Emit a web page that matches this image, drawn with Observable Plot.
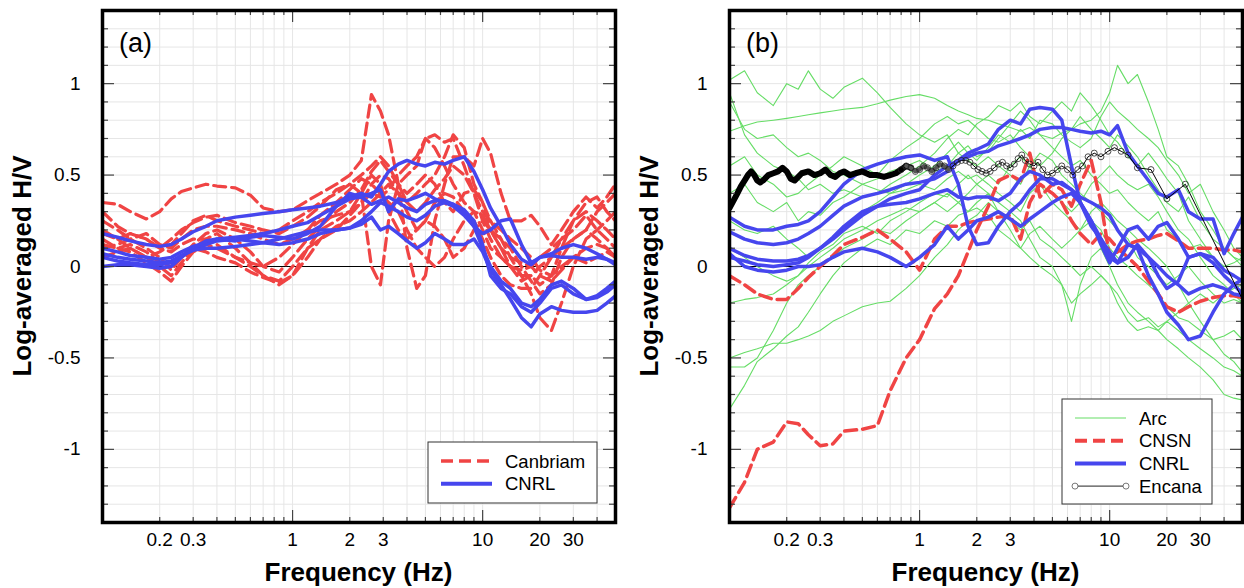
<!DOCTYPE html>
<html><head><meta charset="utf-8">
<script src="https://cdn.jsdelivr.net/npm/d3@7"></script>
<script src="https://cdn.jsdelivr.net/npm/@observablehq/plot@0.6"></script>
<style>
body{margin:0;background:#fff;}
#wrap{position:relative;width:1244px;height:588px;display:flex;overflow:hidden;}
#wrap svg{display:block;flex:none;}
</style></head><body><div id="wrap"></div>
<script>
// ---------- tick labels ----------
const xTickLabels = [0.2, 0.3, 1, 2, 3, 10, 20, 30];
const yTickLabels = [-1, -0.5, 0, 0.5, 1];
const xMinor = [0.2,0.3,0.4,0.5,0.6,0.7,0.8,0.9,2,3,4,5,6,7,8,9,20,30,40];
const xMajor = [1, 10];
const yMinor = [-1.3,-1.2,-1.1,-0.9,-0.8,-0.7,-0.6,-0.4,-0.3,-0.2,-0.1,0.1,0.2,0.3,0.4,0.6,0.7,0.8,0.9,1.1,1.2,1.3];
const yMajor = [-1, -0.5, 0, 0.5, 1];

// ---------- panel (a) data ----------
const freqA = [0.1,0.12,0.14,0.17,0.2,0.23,0.26,0.3,0.35,0.4,0.5,0.6,0.7,0.85,1,1.2,1.4,1.7,2,2.3,2.6,2.9,3.2,3.6,4,4.5,5,5.6,6.3,7,8,9,10,11,12.5,14,16,18,20,23,26,30,35,40,45,50];
const canbriam1 = [0.35,0.34,0.30,0.26,0.30,0.37,0.41,0.43,0.45,0.44,0.43,0.39,0.32,0.30,0.31,0.36,0.40,0.45,0.50,0.58,0.94,0.85,0.72,0.45,0.10,-0.12,-0.05,0.25,0.45,0.60,0.60,0.55,0.70,0.62,0.40,0.25,0.25,0.28,0.22,0.12,0.20,0.30,0.38,0.32,0.38,0.45];
const canbriam2 = [0.30,0.22,0.18,0.15,0.10,0.15,0.20,0.24,0.27,0.28,0.24,0.22,0.20,0.18,0.22,0.27,0.33,0.42,0.45,0.40,0.00,-0.10,0.25,0.45,0.50,0.55,0.70,0.72,0.68,0.70,0.55,0.40,0.25,0.15,0.05,0.00,-0.05,-0.05,-0.10,-0.05,0.10,0.25,0.35,0.38,0.30,0.25];
const canbriam3 = [0.20,0.15,0.10,0.05,0.00,-0.05,0.02,0.10,0.15,0.18,0.10,0.02,-0.05,-0.08,0.00,0.10,0.15,0.20,0.28,0.35,0.45,0.50,0.48,0.40,0.30,0.20,0.25,0.35,0.40,0.38,0.30,0.25,0.15,0.05,-0.05,-0.10,-0.12,-0.12,-0.05,0.05,0.15,0.20,0.28,0.20,0.15,0.10];
const canbriam4 = [0.25,0.20,0.15,0.10,0.05,-0.02,0.05,0.12,0.18,0.20,0.15,0.08,0.00,-0.03,0.05,0.15,0.22,0.30,0.35,0.42,0.52,0.58,0.52,0.45,0.40,0.45,0.50,0.45,0.35,0.30,0.40,0.42,0.35,0.25,0.15,0.05,-0.05,-0.15,-0.28,-0.35,-0.20,0.00,0.15,0.20,0.25,0.30];
const canbriam5 = [0.10,0.12,0.15,0.18,0.12,0.10,0.15,0.20,0.22,0.22,0.20,0.18,0.15,0.12,0.15,0.20,0.25,0.28,0.30,0.35,0.40,0.38,0.42,0.50,0.55,0.60,0.70,0.65,0.55,0.45,0.35,0.30,0.20,0.10,0.05,0.00,-0.02,0.00,0.05,0.10,0.15,0.25,0.30,0.25,0.20,0.15];
const canbriam6 = [0.15,0.10,0.08,0.02,-0.03,-0.08,0.00,0.08,0.12,0.10,0.05,0.00,-0.05,-0.10,-0.05,0.10,0.20,0.25,0.30,0.40,0.50,0.45,0.30,0.20,0.15,0.20,0.25,0.22,0.15,0.05,0.10,0.20,0.25,0.20,0.10,0.00,-0.08,-0.05,0.00,0.05,0.10,0.15,0.20,0.15,0.10,0.05];
const canbriam7 = [0.05,0.08,0.10,0.05,0.08,0.12,0.18,0.25,0.28,0.25,0.22,0.20,0.18,0.20,0.25,0.30,0.35,0.40,0.45,0.50,0.55,0.60,0.55,0.45,0.35,0.30,0.35,0.42,0.48,0.55,0.50,0.40,0.30,0.25,0.20,0.15,0.10,0.05,-0.02,-0.05,0.00,0.05,0.02,0.05,0.08,0.05];
const canbriam8 = [0.12,0.10,0.12,0.08,0.02,0.00,0.05,0.10,0.08,0.05,0.02,-0.03,-0.06,-0.09,-0.05,0.05,0.15,0.22,0.25,0.30,0.35,0.40,0.45,0.40,0.35,0.40,0.45,0.50,0.60,0.72,0.65,0.45,0.35,0.20,0.10,0.05,0.02,0.00,-0.05,-0.08,-0.02,0.05,0.10,0.12,0.10,0.05];
const canbriam9 = [0.18,0.15,0.18,0.15,0.10,0.08,0.12,0.15,0.15,0.12,0.05,0.02,0.00,0.05,0.12,0.20,0.28,0.35,0.42,0.48,0.45,0.40,0.35,0.30,0.20,0.10,0.05,0.00,0.05,0.15,0.25,0.30,0.28,0.20,0.15,0.10,0.00,-0.08,-0.15,-0.10,0.05,0.15,0.20,0.30,0.35,0.40];
const cnrlA1 = [0.18,0.16,0.14,0.12,0.11,0.12,0.15,0.19,0.22,0.25,0.27,0.28,0.29,0.30,0.31,0.32,0.33,0.35,0.38,0.40,0.38,0.45,0.52,0.56,0.58,0.56,0.55,0.57,0.56,0.58,0.60,0.52,0.42,0.32,0.22,0.12,0.04,0.01,0.05,0.06,0.05,0.05,0.04,0.05,0.04,0.02];
const cnrlA2 = [0.10,0.08,0.06,0.05,0.04,0.05,0.08,0.11,0.13,0.15,0.16,0.17,0.18,0.20,0.22,0.24,0.28,0.33,0.37,0.38,0.40,0.42,0.30,0.37,0.36,0.38,0.40,0.37,0.35,0.33,0.28,0.22,0.18,0.20,0.25,0.26,0.12,0.02,0.05,0.07,0.10,0.12,0.10,0.07,0.04,0.01];
const cnrlA3 = [0.07,0.05,0.04,0.03,0.02,0.03,0.06,0.09,0.12,0.14,0.15,0.14,0.13,0.12,0.13,0.15,0.18,0.20,0.21,0.23,0.27,0.20,0.22,0.18,0.14,0.10,0.13,0.18,0.15,0.12,0.12,0.15,0.08,-0.02,-0.10,-0.18,-0.28,-0.33,-0.26,-0.22,-0.24,-0.25,-0.25,-0.24,-0.20,-0.16];
const cnrlA4 = [0.00,0.01,0.01,0.00,-0.01,0.00,0.05,0.10,0.14,0.15,0.14,0.16,0.17,0.16,0.15,0.18,0.22,0.33,0.40,0.38,0.34,0.36,0.38,0.35,0.32,0.30,0.34,0.36,0.36,0.34,0.30,0.22,0.10,0.00,-0.08,-0.12,-0.20,-0.22,-0.18,-0.10,-0.08,-0.12,-0.18,-0.17,-0.14,-0.10];
const cnrlA5 = [0.05,0.03,0.02,0.01,0.01,0.02,0.06,0.09,0.10,0.10,0.11,0.12,0.13,0.15,0.17,0.19,0.20,0.20,0.21,0.25,0.30,0.35,0.33,0.30,0.27,0.25,0.28,0.33,0.35,0.34,0.31,0.25,0.12,-0.05,-0.12,-0.15,-0.22,-0.25,-0.20,-0.12,-0.10,-0.15,-0.18,-0.16,-0.12,-0.08];

// ---------- panel (b) data ----------
const freqB = [0.1,0.12,0.14,0.17,0.2,0.23,0.26,0.3,0.35,0.4,0.5,0.6,0.7,0.85,1,1.2,1.4,1.6,1.8,2,2.3,2.6,3,3.4,3.8,4.3,5,5.6,6.3,7,8,9,10,11,12.5,14,16,18,20,23,26,30,35,40,45,50];
const arc1 = [1.02,1.07,0.95,0.88,1.00,0.97,1.07,0.97,0.92,0.98,1.03,0.95,0.87,0.78,0.72,0.68,0.72,0.62,0.66,0.60,0.63,0.70,0.78,0.85,0.80,0.72,0.65,0.60,0.55,0.58,0.50,0.45,0.40,0.42,0.35,0.30,0.25,0.30,0.20,0.15,0.10,0.12,0.05,0.00,0.02,0.05];
const arc2 = [0.74,0.77,0.79,0.80,0.81,0.82,0.83,0.84,0.85,0.86,0.87,0.89,0.91,0.93,0.94,0.92,0.88,0.85,0.83,0.81,0.80,0.78,0.76,0.74,0.76,0.72,0.70,0.73,0.75,0.78,0.80,0.85,0.95,1.10,1.00,1.05,0.90,0.75,0.60,0.55,0.45,0.30,0.20,0.10,0.05,0.00];
const arc3 = [0.95,0.72,0.62,0.55,0.52,0.48,0.42,0.45,0.40,0.42,0.38,0.40,0.45,0.50,0.55,0.62,0.70,0.75,0.72,0.78,0.82,0.88,0.85,0.90,0.82,0.78,0.85,0.90,0.85,0.95,0.88,0.80,0.72,0.68,0.60,0.55,0.62,0.55,0.48,0.40,0.25,0.15,0.05,-0.05,-0.10,-0.15];
const arc4 = [0.55,0.60,0.50,0.45,0.38,0.40,0.45,0.50,0.55,0.60,0.55,0.50,0.58,0.65,0.70,0.78,0.82,0.78,0.80,0.76,0.70,0.68,0.72,0.65,0.60,0.55,0.62,0.70,0.75,0.82,0.75,0.70,0.65,0.72,0.66,0.60,0.50,0.42,0.35,0.30,0.38,0.25,0.15,0.10,0.05,0.03];
const arc5 = [0.40,0.45,0.35,0.30,0.35,0.25,0.30,0.28,0.35,0.38,0.45,0.48,0.52,0.55,0.58,0.52,0.55,0.62,0.58,0.55,0.60,0.55,0.50,0.45,0.55,0.62,0.58,0.50,0.45,0.40,0.35,0.30,0.25,0.20,0.15,0.05,0.00,-0.05,-0.10,-0.05,0.00,-0.08,-0.15,-0.20,-0.18,-0.20];
const arc6 = [-0.20,-0.18,-0.17,-0.15,-0.10,-0.05,0.02,0.08,0.12,0.18,0.22,0.18,0.25,0.30,0.35,0.40,0.38,0.45,0.50,0.45,0.40,0.35,0.30,0.25,0.15,0.05,0.00,-0.10,-0.30,-0.10,0.05,0.10,0.00,-0.10,-0.20,-0.25,-0.30,-0.35,-0.40,-0.45,-0.50,-0.55,-0.62,-0.70,-0.72,-0.73];
const arc7 = [-0.50,-0.47,-0.45,-0.42,-0.42,-0.40,-0.38,-0.35,-0.30,-0.27,-0.22,-0.20,-0.19,-0.12,-0.05,0.05,0.12,0.20,0.25,0.28,0.35,0.30,0.25,0.20,0.25,0.15,0.10,0.05,0.00,-0.05,0.00,-0.05,-0.10,-0.15,-0.25,-0.30,-0.28,-0.33,-0.30,-0.25,-0.20,-0.15,-0.20,-0.15,-0.12,-0.10];
const arc8 = [-0.55,-0.55,-0.50,-0.35,-0.20,-0.10,-0.05,0.00,0.05,0.10,0.15,0.20,0.18,0.25,0.30,0.35,0.30,0.35,0.40,0.45,0.50,0.45,0.55,0.60,0.55,0.45,0.35,0.30,0.25,0.20,0.30,0.35,0.30,0.25,0.20,0.15,0.10,0.05,0.00,-0.10,-0.20,-0.30,-0.40,-0.48,-0.52,-0.58];
const arc9 = [-0.78,-0.65,-0.52,-0.45,-0.38,-0.33,-0.25,-0.15,-0.05,0.02,0.10,0.15,0.12,0.20,0.18,0.25,0.22,0.28,0.30,0.32,0.28,0.20,0.15,0.10,0.18,0.22,0.15,0.10,0.15,0.20,0.25,0.20,0.10,0.05,0.00,-0.05,-0.10,-0.15,-0.22,-0.28,-0.30,-0.35,-0.40,-0.38,-0.35,-0.40];
const arc10 = [0.25,0.20,0.18,0.22,0.15,0.10,0.05,0.10,0.15,0.20,0.30,0.35,0.40,0.45,0.50,0.55,0.62,0.68,0.62,0.58,0.65,0.72,0.68,0.75,0.70,0.80,0.78,0.72,0.68,0.65,0.70,0.82,0.90,0.85,0.80,0.75,0.70,0.65,0.58,0.50,0.40,0.45,0.30,0.20,0.10,0.05];
const arc11 = [0.90,0.75,0.70,0.72,0.65,0.60,0.62,0.58,0.52,0.50,0.45,0.42,0.40,0.42,0.45,0.42,0.48,0.52,0.48,0.50,0.45,0.40,0.35,0.30,0.40,0.45,0.40,0.35,0.30,0.35,0.45,0.50,0.55,0.50,0.45,0.42,0.45,0.38,0.30,0.20,0.15,0.05,-0.05,-0.10,-0.15,-0.20];
const arc12 = [0.10,0.05,0.00,-0.05,-0.08,-0.05,0.00,0.05,0.10,0.15,0.20,0.25,0.28,0.32,0.30,0.35,0.40,0.35,0.30,0.35,0.40,0.30,0.20,0.10,0.05,0.00,-0.05,-0.10,-0.20,-0.15,-0.10,-0.05,-0.10,-0.20,-0.30,-0.35,-0.33,-0.35,-0.30,-0.35,-0.40,-0.45,-0.50,-0.55,-0.57,-0.60];
const cnsn1 = [-1.32,-1.18,-1.00,-0.96,-0.85,-0.86,-0.92,-0.98,-0.97,-0.90,-0.89,-0.87,-0.68,-0.50,-0.40,-0.23,-0.15,-0.05,0.08,0.20,0.33,0.47,0.50,0.47,0.62,0.38,0.45,0.42,0.33,0.45,0.58,0.35,0.05,0.08,0.12,0.14,0.15,0.17,0.18,0.14,0.10,0.10,0.10,0.09,0.09,0.08];
const cnsn2 = [-0.05,-0.10,-0.15,-0.18,-0.18,-0.12,-0.06,0.00,0.06,0.12,0.16,0.20,0.15,0.08,-0.02,0.15,0.22,0.22,0.24,0.25,0.26,0.27,0.28,0.15,0.35,0.45,0.40,0.35,0.25,0.18,0.12,0.18,0.15,0.10,0.05,0.00,-0.08,-0.15,-0.22,-0.25,-0.22,-0.19,-0.17,-0.16,-0.16,-0.17];
const cnrlB1 = [0.27,0.22,0.20,0.20,0.22,0.23,0.25,0.30,0.38,0.45,0.53,0.56,0.58,0.60,0.61,0.58,0.60,0.45,0.22,0.12,0.13,0.22,0.30,0.35,0.42,0.48,0.48,0.45,0.42,0.35,0.25,0.15,0.05,0.02,0.12,0.10,-0.05,-0.15,-0.25,-0.32,-0.40,-0.38,-0.25,-0.15,-0.10,-0.07];
const cnrlB2 = [0.19,0.15,0.13,0.12,0.13,0.15,0.18,0.22,0.28,0.33,0.38,0.40,0.42,0.45,0.46,0.48,0.52,0.58,0.62,0.64,0.67,0.75,0.80,0.78,0.86,0.87,0.86,0.80,0.55,0.35,0.22,0.15,0.08,0.02,0.05,0.12,0.05,-0.05,-0.12,-0.08,0.05,0.07,0.02,-0.05,-0.10,-0.15];
const cnrlB3 = [0.05,0.03,0.01,0.00,0.01,0.02,0.05,0.10,0.15,0.20,0.28,0.33,0.37,0.40,0.42,0.50,0.55,0.58,0.60,0.62,0.63,0.66,0.68,0.70,0.72,0.75,0.76,0.76,0.75,0.74,0.73,0.74,0.72,0.77,0.62,0.55,0.47,0.40,0.38,0.42,0.30,0.26,0.26,0.07,0.18,0.27];
const cnrlB4 = [0.10,0.06,0.04,0.03,0.03,0.04,0.06,0.10,0.16,0.22,0.30,0.33,0.34,0.35,0.37,0.40,0.42,0.38,0.37,0.38,0.38,0.36,0.40,0.48,0.52,0.50,0.45,0.46,0.42,0.38,0.35,0.32,0.28,0.20,0.12,0.10,0.05,0.00,-0.05,-0.10,-0.15,-0.12,-0.10,-0.12,-0.15,-0.16];
const cnrlB5 = [0.07,0.00,-0.02,-0.03,-0.02,0.00,0.00,0.01,0.05,0.08,0.10,0.08,0.05,0.00,0.05,0.12,0.22,0.15,0.20,0.25,0.27,0.30,0.26,0.22,0.26,0.30,0.35,0.38,0.40,0.35,0.25,0.12,0.02,0.10,0.20,0.22,0.15,0.22,0.24,0.15,0.05,0.07,0.05,-0.02,-0.05,-0.08];
const encanaFreq = [0.1,0.105,0.11,0.115,0.12,0.125,0.13,0.135,0.14,0.145,0.15,0.16,0.17,0.18,0.19,0.2,0.21,0.22,0.23,0.24,0.26,0.28,0.3,0.32,0.34,0.36,0.38,0.4,0.43,0.46,0.5,0.55,0.6,0.65,0.7,
  0.75,0.8,0.85,0.9,0.95,1.0,1.05,1.1,1.16,1.22,1.28,1.35,1.42,1.5,1.58,1.66,1.75,1.84,1.93,2.03,2.13,2.24,2.35,2.47,2.6,2.73,2.87,3.0,3.15,3.3,3.45,3.6,3.8,4.0,4.2,4.45,4.7,5.0,5.3,5.6,6.0,6.4,6.8,7.2,7.7,8.3,9.0,9.8,10.6,11.5,12.5,14,16.5,20,25,50];
const encanaVal = [0.32,0.36,0.40,0.44,0.47,0.50,0.52,0.50,0.47,0.46,0.47,0.50,0.51,0.52,0.54,0.52,0.48,0.47,0.49,0.51,0.52,0.50,0.51,0.53,0.50,0.49,0.51,0.52,0.50,0.51,0.52,0.50,0.50,0.49,0.50,
  0.51,0.53,0.55,0.54,0.52,0.53,0.55,0.54,0.52,0.54,0.56,0.55,0.53,0.55,0.57,0.58,0.58,0.57,0.55,0.53,0.52,0.51,0.52,0.54,0.56,0.57,0.55,0.54,0.56,0.59,0.61,0.58,0.56,0.55,0.57,0.53,0.50,0.51,0.53,0.55,0.53,0.50,0.53,0.55,0.60,0.62,0.60,0.63,0.65,0.63,0.61,0.54,0.53,0.37,0.45,-0.18];

// ---------- styles ----------
const RED = "#f04444", BLUE = "#4646ee", GREEN = "#66dd66", GRID = "#e6e6e6", TICK = "#444";
const FONT = "'Liberation Sans', Arial, Helvetica, sans-serif";

function table(freqs, named) {
  return Object.entries(named).flatMap(([name, vals]) => vals.map((v, i) => ({f: freqs[i], v, name})));
}
const canbriamA = table(freqA, {canbriam1, canbriam2, canbriam3, canbriam4, canbriam5, canbriam6, canbriam7, canbriam8, canbriam9});
const cnrlA = table(freqA, {cnrlA1, cnrlA2, cnrlA3, cnrlA4, cnrlA5});
const arcB = table(freqB, {arc1, arc2, arc3, arc4, arc5, arc6, arc7, arc8, arc9, arc10, arc11, arc12});
const cnsnB = table(freqB, {cnsn1, cnsn2});
const cnrlB = table(freqB, {cnrlB1, cnrlB2, cnrlB3, cnrlB4, cnrlB5});
const encana = encanaFreq.map((f, i) => ({f, v: encanaVal[i]}));

const W = 622, H = 588, MT = 10, MB = 66;
const PH = H - MT - MB;

function makePanel(ml, mr, dataMarks) {
  const PW = W - ml - mr;
  const gridX = xMinor.concat(xMajor);
  const gridY = yMinor.concat(yMajor);
  return Plot.plot({
    width: W, height: H,
    marginLeft: ml, marginRight: mr, marginTop: MT, marginBottom: MB,
    x: {type: "log", domain: [0.1, 50], axis: null},
    y: {domain: [-1.4, 1.4], axis: null},
    style: {fontFamily: FONT, fontSize: "19px", background: "white", color: "black", overflow: "visible"},
    marks: [
      Plot.ruleX(gridX, {stroke: GRID, strokeWidth: 1}),
      Plot.ruleY(gridY, {stroke: GRID, strokeWidth: 1}),
      Plot.ruleY([0], {stroke: "black", strokeWidth: 1}),
      ...dataMarks,
      Plot.ruleX(xMinor, {insetTop: PH - 5, stroke: TICK, strokeWidth: 1.2}),
      Plot.ruleX(xMinor, {insetBottom: PH - 5, stroke: TICK, strokeWidth: 1.2}),
      Plot.ruleX(xMajor, {insetTop: PH - 12, stroke: TICK, strokeWidth: 1.2}),
      Plot.ruleX(xMajor, {insetBottom: PH - 12, stroke: TICK, strokeWidth: 1.2}),
      Plot.ruleY(yMinor, {insetRight: PW - 6, stroke: TICK, strokeWidth: 1.2}),
      Plot.ruleY(yMinor, {insetLeft: PW - 6, stroke: TICK, strokeWidth: 1.2}),
      Plot.ruleY(yMajor, {insetRight: PW - 12, stroke: TICK, strokeWidth: 1.2}),
      Plot.ruleY(yMajor, {insetLeft: PW - 12, stroke: TICK, strokeWidth: 1.2}),
      Plot.frame({stroke: "black", strokeWidth: 3.5}),
      Plot.text(xTickLabels, {x: d => d, frameAnchor: "bottom", dy: 23, text: d => String(d), fontSize: 19, fill: "black", textAnchor: "middle"}),
      Plot.text(yTickLabels, {y: d => d, frameAnchor: "left", dx: -22, text: d => String(d), fontSize: 19, fill: "black", textAnchor: "end"})
    ]
  });
}

function addText(svg, ml, mr, tag) {
  const s = d3.select(svg);
  const cx = ml + (W - ml - mr) / 2;
  s.append("text").attr("x", cx).attr("y", 581).attr("text-anchor", "middle")
    .attr("font-family", FONT).attr("font-weight", "bold").attr("font-size", 26).attr("fill", "black")
    .text("Frequency (Hz)");
  s.append("text").attr("transform", `translate(${ml - 71},${MT + PH / 2}) rotate(-90)`).attr("text-anchor", "middle")
    .attr("font-family", FONT).attr("font-weight", "bold").attr("font-size", 26).attr("fill", "black")
    .text("Log-averaged H/V");
  s.append("text").attr("x", ml + 17).attr("y", 52).attr("text-anchor", "start")
    .attr("font-family", FONT).attr("font-size", 27).attr("fill", "black").text(tag);
}

function legend(svg, x, y, w, h, rows) {
  const s = d3.select(svg);
  s.append("rect").attr("x", x).attr("y", y).attr("width", w).attr("height", h)
    .attr("fill", "white").attr("stroke", "#333").attr("stroke-width", 1);
  rows.forEach((r, i) => {
    const yy = y + 19 + i * 22.7;
    const g = s.append("g");
    g.append("line").attr("x1", x + 13).attr("x2", x + 64).attr("y1", yy).attr("y2", yy)
      .attr("stroke", r.stroke).attr("stroke-width", r.width).attr("stroke-dasharray", r.dash || null);
    if (r.dots) {
      [x + 13, x + 64].forEach(cx => g.append("circle").attr("cx", cx).attr("cy", yy).attr("r", 3)
        .attr("fill", "white").attr("stroke", "#555").attr("stroke-width", 0.8));
    }
    g.append("text").attr("x", x + 77).attr("y", yy).attr("dy", "0.36em").attr("text-anchor", "start")
      .attr("font-family", FONT).attr("font-size", 18.5).attr("fill", "black").text(r.label);
  });
}

const wrap = document.getElementById("wrap");

// Panel (a)
const mlA = 102, mrA = 7;
const svgA = makePanel(mlA, mrA, [
  Plot.line(canbriamA, {x: "f", y: "v", z: "name", stroke: RED, strokeWidth: 3.2, strokeDasharray: "12,6", clip: true}),
  Plot.line(cnrlA, {x: "f", y: "v", z: "name", stroke: BLUE, strokeWidth: 3.5, clip: true})
]);
addText(svgA, mlA, mrA, "(a)");
legend(svgA, 428, 442, 169, 61, [
  {label: "Canbriam", stroke: RED, width: 3.5, dash: "12,6"},
  {label: "CNRL", stroke: BLUE, width: 4}
]);
wrap.appendChild(svgA);

// Panel (b)
const mlB = 107, mrB = 2;
const svgB = makePanel(mlB, mrB, [
  Plot.line(arcB, {x: "f", y: "v", z: "name", stroke: GREEN, strokeWidth: 1.1, clip: true}),
  Plot.line(cnsnB, {x: "f", y: "v", z: "name", stroke: RED, strokeWidth: 3.5, strokeDasharray: "12,6", clip: true}),
  Plot.line(cnrlB, {x: "f", y: "v", z: "name", stroke: BLUE, strokeWidth: 3.5, clip: true}),
  Plot.line(encana, {x: "f", y: "v", stroke: "black", strokeWidth: 1, clip: true}),
  Plot.line(encana, {filter: d => d.f <= 0.9, x: "f", y: "v", stroke: "black", strokeWidth: 6, strokeLinejoin: "round", clip: true}),
  Plot.line(encana, {filter: d => d.f >= 0.85 && d.f <= 1.45, x: "f", y: "v", stroke: "#555", strokeWidth: 4, strokeLinejoin: "round", clip: true}),
  Plot.dot(encana, {filter: d => d.f >= 0.8 && d.f < 40, x: "f", y: "v", r: 3, stroke: "#222", strokeWidth: 0.8, fill: "none", clip: true})
]);
addText(svgB, mlB, mrB, "(b)");
legend(svgB, 440, 399, 150, 105, [
  {label: "Arc", stroke: GREEN, width: 1.2},
  {label: "CNSN", stroke: RED, width: 4, dash: "12,6"},
  {label: "CNRL", stroke: BLUE, width: 4},
  {label: "Encana", stroke: "#222", width: 1, dots: true}
]);
wrap.appendChild(svgB);
</script>
</body></html>
